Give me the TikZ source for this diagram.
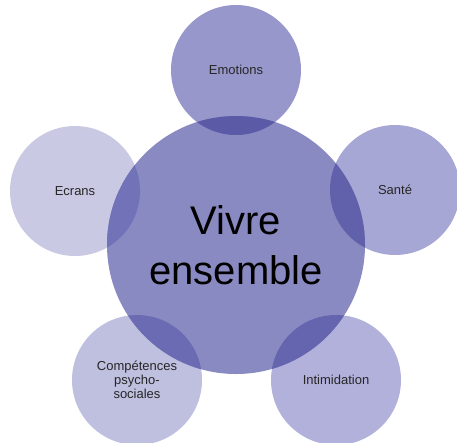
\documentclass[tikz,border=0pt]{standalone}
\usepackage{fontspec}
\setmainfont{Liberation Sans}
\definecolor{cCenter}{HTML}{8A8AC3}
\definecolor{cEmo}{HTML}{9797CC}
\definecolor{cEcr}{HTML}{C9C9E4}
\definecolor{cSan}{HTML}{A7A7D5}
\definecolor{cInt}{HTML}{B1B1DB}
\definecolor{cComp}{HTML}{BFBFE0}
\definecolor{oEmo}{HTML}{5A5AA6}
\definecolor{oEcr}{HTML}{7272B9}
\definecolor{oSan}{HTML}{6060AB}
\definecolor{oInt}{HTML}{6464AF}
\definecolor{oComp}{HTML}{6B6BB4}
\tikzset{
  outer/.style={circle, minimum size=130pt, inner sep=0pt, align=center, font=\fontsize{13}{14}\selectfont, text=black!85},
  central/.style={circle, minimum size=258pt, inner sep=0pt, align=center, font=\fontsize{40}{50}\selectfont, text=black}
}
\begin{document}
\begin{tikzpicture}[x=1pt,y=-1pt]
\useasboundingbox (0,0) rectangle (457,442);
\node[outer, fill=cEmo] (emo) at (236,70) {};
\node[outer, fill=cSan] (san) at (395,190) {};
\node[outer, fill=cInt] (int) at (336,380) {};
\node[outer, fill=cComp] (comp) at (137,380) {};
\node[outer, fill=cEcr] (ecr) at (75,191) {};
\node[central, fill=cCenter] (c) at (236,245) {};
\begin{scope}
  \clip (236,245) circle (129);
  \fill[oEmo] (emo.center) circle (65);
  \fill[oSan] (san.center) circle (65);
  \fill[oInt] (int.center) circle (65);
  \fill[oComp] (comp.center) circle (65);
  \fill[oEcr] (ecr.center) circle (65);
\end{scope}
\node[central] (ct) at (c.center) {Vivre\\ensemble};
\node[outer] (emot) at (emo.center) {Emotions};
\node[outer] (sant) at (san.center) {Santé};
\node[outer] (intt) at (int.center) {Intimidation};
\node[outer] (compt) at (comp.center) {Compétences\\psycho-\\sociales};
\node[outer] (ecrt) at (ecr.center) {Ecrans};
\end{tikzpicture}
\end{document}
